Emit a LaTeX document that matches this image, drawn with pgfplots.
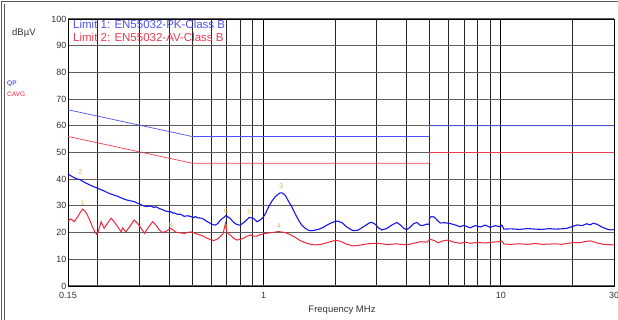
\documentclass[border=0pt]{standalone}
\usepackage{pgfplots}
\pgfplotsset{compat=1.18}
\usepackage{fontspec}
\setmainfont{Liberation Sans}

\definecolor{qpblue}{RGB}{20,20,235}
\definecolor{avred}{RGB}{235,40,60}
\definecolor{limblue}{RGB}{80,80,245}
\definecolor{limred}{RGB}{235,60,80}
\definecolor{mkcol}{RGB}{225,185,70}
\definecolor{gridgray}{RGB}{95,95,95}

\begin{document}
\begin{tikzpicture}
\useasboundingbox (0,0) rectangle (618pt,320pt);
% outer frame
\draw[gray!70!black, line width=0.8pt] (1pt,0) -- (1pt,319pt) -- (618pt,319pt);
\draw[gray!70!black, line width=0.8pt] (4.3pt,0) -- (4.3pt,316pt);

\begin{axis}[
  at={(68pt,34pt)}, anchor=south west,
  scale only axis, width=546pt, height=267pt,
  xmode=log, xmin=0.15, xmax=30, ymin=0, ymax=100,
  xtick={0.15,1,10,30}, xticklabels={0.15,1,10,30},
  minor xtick={0.2,0.3,0.4,0.5,0.6,0.7,0.8,0.9,2,3,4,5,6,7,8,9,20},
  ytick={0,10,...,100},
  major tick length=0pt, minor tick length=0pt,
  grid=both,
  major x grid style={black, line width=0.7pt},
  minor x grid style={black!85, line width=0.7pt},
  major y grid style={gridgray, line width=1.1pt},
  axis line style={black, line width=0.8pt},
  tick label style={font=\fontsize{9}{10.8}\selectfont, text=black!80},
  /pgf/number format/assume math mode=true,
  yticklabel style={xshift=-0.5pt, inner sep=1pt},
  xticklabel style={yshift=-5.5pt, inner sep=1pt},
  clip=true,
]
% EN55032 Class B limits
\addplot[limblue, line width=0.7pt] coordinates {(0.15,66) (0.5,56) (5,56) (5,60) (30,60)};
\addplot[limred, line width=0.7pt] coordinates {(0.15,56) (0.5,46) (5,46) (5,50) (30,50)};

% QP measurement
\addplot[qpblue, line width=1.1pt] coordinates {
(0.150,42.0) (0.154,41.3) (0.159,40.6) (0.164,40.1) (0.169,39.8) (0.173,39.2)
(0.181,38.3) (0.190,37.4) (0.198,36.8) (0.205,36.2) (0.213,35.6) (0.222,34.8)
(0.235,34.0) (0.243,33.6) (0.251,33.0) (0.263,32.3) (0.275,31.9) (0.285,31.6)
(0.295,31.0) (0.305,30.4) (0.315,29.9) (0.325,29.8) (0.335,30.0) (0.345,29.4)
(0.352,29.7) (0.364,29.0) (0.376,28.6) (0.382,28.2) (0.395,27.9) (0.407,27.8)
(0.415,27.3) (0.421,27.4) (0.435,26.8) (0.447,26.9) (0.463,26.1) (0.480,26.3)
(0.494,26.0) (0.507,25.6) (0.516,26.0) (0.530,25.5) (0.550,25.4) (0.568,24.6)
(0.582,24.0) (0.596,23.5) (0.610,23.0) (0.626,22.8) (0.642,23.4) (0.657,24.6)
(0.675,25.4) (0.695,26.4) (0.710,25.8) (0.724,25.3) (0.742,24.2) (0.760,23.4)
(0.780,22.9) (0.798,22.8) (0.818,23.5) (0.838,24.2) (0.855,25.0) (0.871,25.7)
(0.890,25.5) (0.908,25.3) (0.925,24.6) (0.938,24.1) (0.960,24.5) (0.985,25.3)
(1.000,25.9) (1.020,27.2) (1.050,29.6) (1.085,31.8) (1.120,33.4) (1.150,34.3)
(1.176,34.9) (1.200,34.8) (1.234,34.0) (1.270,32.0) (1.317,29.6) (1.360,27.0)
(1.404,24.7) (1.450,22.8) (1.499,21.6) (1.540,21.0) (1.573,20.7) (1.620,20.8)
(1.705,21.2) (1.780,21.9) (1.850,22.8) (1.930,23.6) (2.005,24.2) (2.060,24.3)
(2.150,23.6) (2.250,22.0) (2.388,20.7) (2.500,20.9) (2.650,22.3) (2.800,23.7)
(2.862,23.8) (2.950,23.2) (3.050,21.8) (3.153,21.0) (3.300,21.5) (3.500,23.0)
(3.647,23.8) (3.780,22.8) (3.900,21.6) (4.018,21.1) (4.150,22.0) (4.300,23.4)
(4.429,23.8) (4.600,22.6) (4.750,22.8) (4.880,23.2) (4.990,23.0) (5.010,25.4)
(5.100,26.0) (5.250,25.8) (5.400,24.6) (5.551,23.6) (5.800,23.7) (6.115,23.4)
(6.400,22.9) (6.741,22.2) (7.000,22.7) (7.426,21.8) (7.800,22.6) (8.200,22.1)
(8.600,22.8) (9.000,22.0) (9.500,22.6) (9.900,22.2) (10.10,22.8) (10.30,21.3)
(11.00,21.4) (12.00,21.2) (13.00,21.5) (14.00,21.3) (15.00,21.2) (16.00,21.5)
(17.00,21.3) (18.00,21.4) (19.00,21.6) (20.20,22.4) (21.00,22.9) (22.00,22.6)
(23.00,23.3) (23.80,22.9) (24.50,23.5) (25.50,23.1) (26.50,22.2) (27.50,21.6)
(28.50,21.1) (29.40,21.0) (30.00,21.2)
};

% CAVG measurement
\addplot[avred, line width=1.0pt] coordinates {
(0.150,24.0) (0.152,24.7) (0.154,25.1) (0.157,24.6) (0.159,24.1) (0.162,25.0)
(0.165,26.0) (0.169,27.6) (0.173,28.8) (0.177,28.0) (0.181,26.6) (0.186,24.3)
(0.190,22.2) (0.195,20.2) (0.198,19.4) (0.201,20.3) (0.203,21.6) (0.207,24.1)
(0.210,22.8) (0.213,21.6) (0.220,23.5) (0.228,25.4) (0.235,24.0) (0.243,22.2)
(0.251,20.3) (0.255,21.8) (0.258,21.2) (0.263,20.3) (0.272,22.0) (0.285,24.7)
(0.295,23.4) (0.305,21.6) (0.315,19.7) (0.325,21.6) (0.341,24.1) (0.352,22.8)
(0.364,21.0) (0.376,20.0) (0.390,20.6) (0.407,21.6) (0.428,20.1) (0.446,19.9)
(0.463,19.7) (0.494,20.3) (0.516,19.7) (0.535,19.2) (0.553,18.8) (0.580,17.8)
(0.616,17.0) (0.640,17.6) (0.657,18.5) (0.675,19.5) (0.685,22.0) (0.692,23.5)
(0.700,20.3) (0.712,19.6) (0.724,19.1) (0.750,17.8) (0.773,17.2) (0.800,17.5)
(0.824,17.9) (0.850,18.6) (0.879,19.1) (0.910,18.7) (0.938,18.7) (0.965,19.2)
(1.000,19.5) (1.040,19.8) (1.085,20.0) (1.120,20.2) (1.157,20.4) (1.190,20.2)
(1.234,20.0) (1.300,19.2) (1.360,18.2) (1.430,17.0) (1.499,16.2) (1.580,15.6)
(1.651,15.4) (1.750,15.6) (1.850,16.2) (1.950,16.8) (2.005,17.1) (2.100,16.8)
(2.250,15.6) (2.388,15.0) (2.550,15.3) (2.750,15.8) (3.000,16.0) (3.153,15.8)
(3.350,15.5) (3.600,15.8) (3.800,15.6) (4.018,15.4) (4.300,16.0) (4.600,16.6)
(4.880,16.4) (5.037,17.5) (5.250,17.0) (5.450,16.2) (5.700,16.9) (6.000,17.2)
(6.300,16.5) (6.741,16.0) (7.100,16.4) (7.426,16.0) (8.000,16.3) (8.600,16.1)
(9.200,16.4) (9.800,16.6) (10.10,16.9) (10.30,15.7) (11.00,15.6) (12.00,15.8)
(13.00,15.6) (14.00,15.9) (15.00,15.6) (16.00,15.7) (17.00,15.8) (18.00,15.6)
(19.00,15.9) (20.20,16.3) (21.50,16.2) (22.50,16.6) (23.80,16.9) (24.50,16.6)
(25.50,16.1) (27.00,15.6) (28.50,15.5) (30.00,15.4)
};

% peak markers
\begin{scope}[every node/.style={text=mkcol, font=\fontsize{7}{8}\selectfont, inner sep=0pt}]
\node at (axis cs:0.169,42.6) {2};
\node at (axis cs:0.173,31.2) {1};
\node at (axis cs:0.695,28.2) {6};
\node at (axis cs:0.695,22.0) {7};
\node at (axis cs:0.871,27.8) {5};
\node at (axis cs:1.187,37.4) {3};
\node at (axis cs:1.157,22.3) {4};
\node at (axis cs:0.407,22.9) {8};
\end{scope}
\end{axis}

% limit captions
\node[anchor=base west, inner sep=0pt, text=limblue, font=\fontsize{11.5}{13}\selectfont] at (73pt,291.5pt) {Limit 1: EN55032-PK-Class B};
\node[anchor=base west, inner sep=0pt, text=limred, font=\fontsize{11.5}{13}\selectfont] at (73pt,278.5pt) {Limit 2: EN55032-AV-Class B};

% unit and trace names
\node[anchor=west, inner sep=0pt, text=black!80, font=\fontsize{9.5}{11}\selectfont] at (12pt,287pt) {dBµV};
\node[anchor=west, inner sep=0pt, text=qpblue, font=\fontsize{6.5}{7.5}\selectfont] at (7pt,236pt) {QP};
\node[anchor=west, inner sep=0pt, text=avred, font=\fontsize{6.5}{7.5}\selectfont] at (7pt,226pt) {CAVG};

% x axis title
\node[inner sep=0pt, text=black!80, font=\fontsize{9.5}{11}\selectfont] at (342pt,10pt) {Frequency MHz};
\end{tikzpicture}
\end{document}
